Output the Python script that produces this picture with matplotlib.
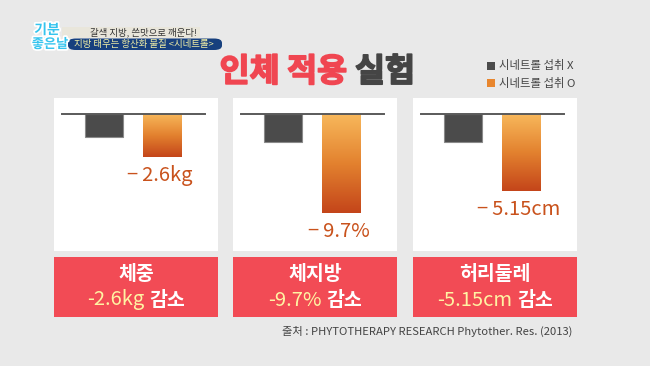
import matplotlib
matplotlib.use('Agg')
import matplotlib.pyplot as plt
import numpy as np
from matplotlib.colors import LinearSegmentedColormap
from matplotlib.patches import Rectangle, FancyBboxPatch
import matplotlib.patheffects as pe

plt.rcParams['font.family'] = ['Noto Sans CJK KR', 'DejaVu Sans']

# 데이터
categories = ['체중', '체지방', '허리둘레']
units = ['kg', '%', 'cm']
no_intake = [-1.4, -2.7, -1.9]      # 시네트롤 섭취 X
intake = [-2.6, -9.7, -5.15]        # 시네트롤 섭취 O
legend_labels = ['시네트롤 섭취 X', '시네트롤 섭취 O']

W, H = 650, 366
BG = '#e9e9e9'
RED = '#f24b55'
DARK = '#4b4b4b'
LABEL = '#c9521c'
orange_cmap = LinearSegmentedColormap.from_list('og', ['#c4451a', '#e3822f', '#f8b95c'])


def fx(x):
    return x / W


def fy(y):
    return 1 - y / H


def px_axes(x0, y0, x1, y1):
    return [fx(x0), fy(y1), (x1 - x0) / W, (y1 - y0) / H]


fig = plt.figure(figsize=(6.5, 3.66), dpi=100, facecolor=BG)

# 상단 로고 / 배너
logo_fx = [pe.withStroke(linewidth=2.5, foreground='white')]
fig.text(fx(47), fy(30), '기분', color='#35c4ee', fontsize=10, fontweight='bold',
         ha='center', va='center', path_effects=logo_fx)
fig.text(fx(50), fy(44), '좋은날', color='#35c4ee', fontsize=9.5, fontweight='bold',
         ha='center', va='center', path_effects=logo_fx)
fig.patches.append(Rectangle((fx(62), fy(37.5)), fx(138), 10.5 / H, transform=fig.transFigure,
                             facecolor='#e9e6db', edgecolor='none'))
fig.text(fx(143), fy(32.5), '갈색 지방, 쓴맛으로 깨운다!', color='#333333', fontsize=6.8,
         ha='center', va='center')
fig.patches.append(FancyBboxPatch((fx(68), fy(50)), fx(154), 11.5 / H, transform=fig.transFigure,
                                  boxstyle='round,pad=0,rounding_size=0.012',
                                  facecolor='#17407e', edgecolor='none'))
fig.text(fx(144), fy(44), '지방 태우는 항산화 물질 <시네트롤>', color='#f3f0a6', fontsize=6.8,
         ha='center', va='center')

# 제목
fig.text(fx(347), fy(72), '인체 적용', color='#f04651', fontsize=23.5, fontweight='heavy',
         ha='right', va='center', path_effects=[pe.withStroke(linewidth=1.2, foreground='#f04651')])
fig.text(fx(355), fy(72), '실험', color='#454545', fontsize=23.5, fontweight='heavy',
         ha='left', va='center', path_effects=[pe.withStroke(linewidth=1.2, foreground='#454545')])

# 범례
for i, (lab, col) in enumerate(zip(legend_labels, [DARK, '#e8862e'])):
    yc = 66 + i * 17
    fig.patches.append(Rectangle((fx(487), fy(yc + 4)), fx(8), 8 / H, transform=fig.transFigure,
                                 facecolor=col, edgecolor='none'))
    fig.text(fx(499), fy(yc), lab, color='#444444', fontsize=8.2, ha='left', va='center')

# 패널
panel_x = [54, 233, 413]
panel_w = 164
ylims = [(-8.28, 0.97), (-13.42, 1.57), (-9.16, 1.07)]
unit_px = 58.5
x_left = -50 / unit_px

line2_parts = []
for i, cat in enumerate(categories):
    x0 = panel_x[i]
    ax = fig.add_axes(px_axes(x0, 98, x0 + panel_w, 251))
    ax.set_facecolor('white')
    for s in ax.spines.values():
        s.set_visible(False)
    ax.set_xticks([])
    ax.set_yticks([])

    ax.bar([0], [no_intake[i]], width=0.65, color=DARK, edgecolor='#8a8a8a', linewidth=0.8, zorder=2)
    ob = ax.bar([1], [intake[i]], width=0.65, color='none', edgecolor='none', zorder=3)
    patch = ob.patches[0]
    grad = np.linspace(0, 1, 256).reshape(-1, 1)
    im = ax.imshow(grad, extent=[1 - 0.325, 1 + 0.325, intake[i], 0], origin='lower',
                   aspect='auto', cmap=orange_cmap, zorder=3)
    im.set_clip_path(patch)
    ax.plot([x_left + 8 / unit_px, x_left + (panel_w - 13) / unit_px], [0, 0],
            color='#5a5a5a', lw=1.4, zorder=4)

    ax.annotate(f'\u2212\u2009{abs(intake[i]):g}{units[i]}', xy=(1, intake[i]), xytext=(-2, -13),
                textcoords='offset points', ha='center', va='center', color=LABEL, fontsize=14.5)

    ax.set_xlim(x_left, x_left + panel_w / unit_px)
    ax.set_ylim(*ylims[i])

    # 아래 빨간 상자
    fig.patches.append(Rectangle((fx(x0), fy(317)), fx(panel_w), 60 / H, transform=fig.transFigure,
                                 facecolor=RED, edgecolor='none'))
    cx = x0 + panel_w / 2
    fig.text(fx(cx), fy(274), cat, color='white', fontsize=14, fontweight='bold',
             ha='center', va='center')
    t1 = fig.text(fx(cx), fy(300), f'-{abs(intake[i]):g}{units[i]}', color='#fff3a3', fontsize=14.5,
                  ha='left', va='center')
    t2 = fig.text(fx(cx), fy(300), '감소', color='white', fontsize=14, fontweight='bold',
                  ha='left', va='center')
    line2_parts.append((cx, t1, t2))

# 두번째 줄 가운데 정렬
fig.canvas.draw()
r = fig.canvas.get_renderer()
gap = 5
for cx, t1, t2 in line2_parts:
    w1 = t1.get_window_extent(r).width
    w2 = t2.get_window_extent(r).width
    start = cx - (w1 + gap + w2) / 2
    t1.set_x(fx(start))
    t2.set_x(fx(start + w1 + gap))

fig.text(fx(572), fy(331), '출처 : PHYTOTHERAPY RESEARCH Phytother. Res. (2013)', color='#444444',
         fontsize=8.1, ha='right', va='center')

fig.savefig('out.png', dpi=100, facecolor=BG)
